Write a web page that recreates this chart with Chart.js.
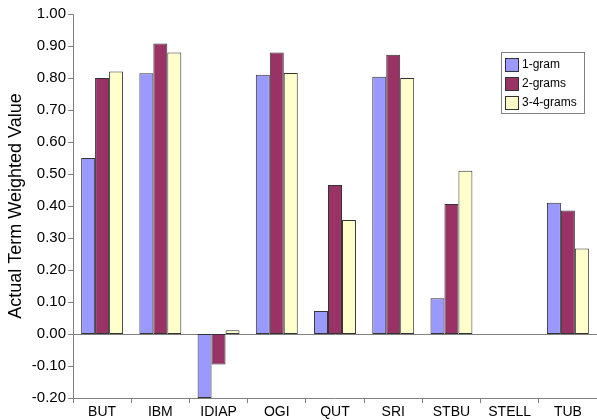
<!DOCTYPE html>
<html>
<head>
<meta charset="utf-8">
<script src="https://cdn.jsdelivr.net/npm/chart.js@4"></script>
<style>
    html, body { margin: 0; padding: 0; background: #fff; }
    #wrap { width: 597px; height: 420px; }
</style>
</head>
<body>
<div id="wrap"><canvas id="chart" width="597" height="420"></canvas></div>
<script>
var sites = ["BUT", "IBM", "IDIAP", "OGI", "QUT", "SRI", "STBU", "STELL", "TUB"];
var oneGram = [0.55, 0.815, -0.20, 0.81, 0.072, 0.804, 0.112, null, 0.41];
var twoGrams = [0.80, 0.908, -0.095, 0.88, 0.466, 0.873, 0.406, null, 0.386];
var threeFourGrams = [0.82, 0.88, 0.012, 0.816, 0.356, 0.80, 0.51, null, 0.267];
var seriesNames = ["1-gram", "2-grams", "3-4-grams"];
var seriesColors = ["#9999FF", "#993366", "#FFFFCC"];

var font = "Arial, 'Liberation Sans', sans-serif";

// Boxed legend like the spreadsheet one
var boxLegend = {
    id: 'boxLegend',
    afterDraw: function(chart) {
        var ctx = chart.ctx;
        var x = 501, y = 52, w = 83, h = 61;
        ctx.save();
        ctx.fillStyle = '#fff';
        ctx.fillRect(x, y, w, h);
        ctx.strokeStyle = '#808080';
        ctx.lineWidth = 1;
        ctx.strokeRect(x + 0.5, y + 0.5, w, h);
        ctx.font = "12px " + font;
        ctx.textBaseline = 'middle';
        chart.data.datasets.forEach(function(ds, i) {
            var cy = y + 12 + i * 19;
            ctx.fillStyle = ds.backgroundColor;
            ctx.fillRect(x + 4, cy - 6, 13, 13);
            ctx.strokeStyle = '#333';
            ctx.strokeRect(x + 4.5, cy - 5.5, 13, 13);
            ctx.fillStyle = '#000';
            ctx.fillText(ds.label, x + 21, cy + 1);
        });
        ctx.restore();
    }
};

var datasets = [oneGram, twoGrams, threeFourGrams].map(function(vals, i) {
    return {
        label: seriesNames[i],
        data: vals,
        backgroundColor: seriesColors[i],
        borderColor: '#333',
        borderWidth: 1,
        borderSkipped: false,
        barPercentage: 1.0,
        categoryPercentage: 0.72
    };
});

var chartCtx = document.getElementById('chart').getContext('2d');
var chart = new Chart(chartCtx, {
    type: 'bar',
    data: { labels: sites, datasets: datasets },
    options: {
        responsive: false,
        animation: false,
        layout: { padding: { top: 14, right: 0, bottom: 0, left: 5 } },
        plugins: {
            legend: { display: false },
            tooltip: { enabled: false }
        },
        scales: {
            x: {
                afterFit: function(scale) { scale.height = 22; },
                grid: {
                    offset: true,
                    drawOnChartArea: false,
                    tickLength: 5,
                    tickColor: '#808080'
                },
                border: { display: true, color: '#808080' },
                ticks: {
                    color: '#000',
                    padding: 1,
                    maxRotation: 0,
                    font: { family: font, size: 14 }
                }
            },
            y: {
                min: -0.2,
                max: 1.0,
                afterFit: function(scale) { scale.width = 68; },
                grid: {
                    color: function(c) { return c.tick && Math.abs(c.tick.value) < 1e-9 ? '#808080' : 'rgba(0,0,0,0)'; },
                    tickColor: '#808080',
                    tickLength: 5
                },
                border: { display: true, color: '#808080' },
                ticks: {
                    stepSize: 0.1,
                    color: '#000',
                    padding: 2,
                    font: { family: font, size: 15 },
                    callback: function(v) {
                        var r = Math.round(v * 100) / 100;
                        return (r === 0 ? 0 : r).toFixed(2);
                    }
                },
                title: {
                    display: true,
                    text: 'Actual Term Weighted Value',
                    color: '#000',
                    padding: { top: 0, bottom: 2 },
                    font: { family: font, size: 18 }
                }
            }
        }
    },
    plugins: [boxLegend]
});
</script>
</body>
</html>
